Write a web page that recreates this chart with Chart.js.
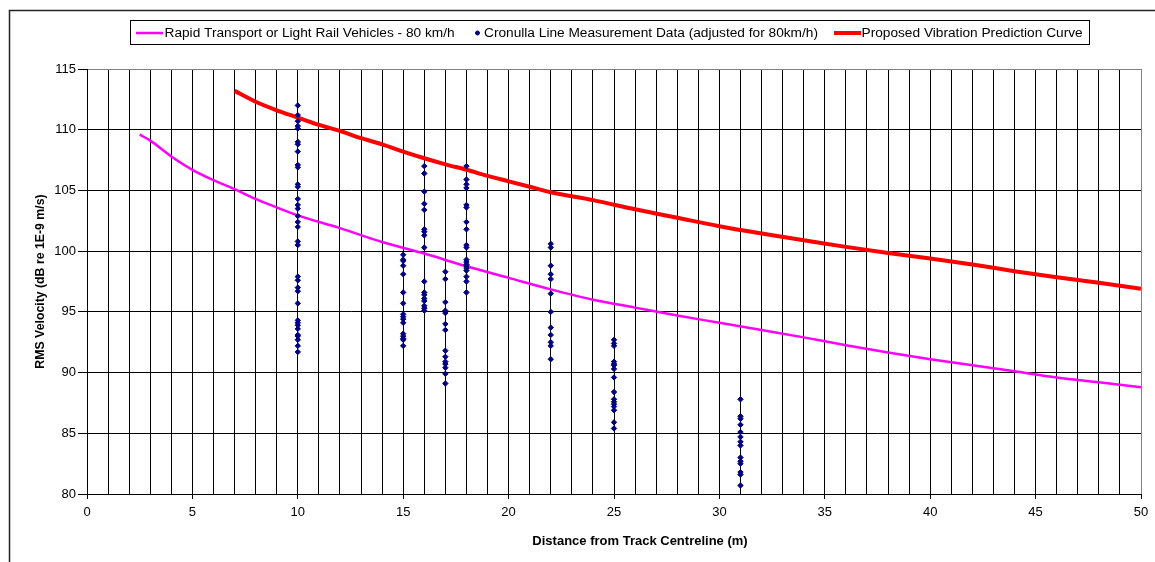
<!DOCTYPE html>
<html>
<head>
<meta charset="utf-8">
<script src="https://cdn.jsdelivr.net/npm/chart.js@4.4.1/dist/chart.umd.min.js"></script>
<style>
  html, body { margin: 0; padding: 0; background: #fff; }
</style>
</head>
<body>
<canvas id="chart" width="1155" height="562"></canvas>
<script>
// Rapid transport / light rail curve (80 km/h)
const rapidDist = [2.5, 3, 4, 5, 6, 7, 8, 9, 10, 12, 14, 16, 18, 20, 22, 24, 26, 28, 30, 32, 34, 36, 38, 40, 42, 44, 46, 48, 50];
const rapidLevel = [109.6, 109.1, 107.8, 106.7, 105.85, 105.1, 104.3, 103.6, 102.95, 101.9, 100.75, 99.8, 98.75, 97.8, 96.85, 96.0, 95.35, 94.7, 94.1, 93.5, 92.9, 92.25, 91.65, 91.1, 90.6, 90.1, 89.6, 89.2, 88.8];

// Proposed vibration prediction curve
const proposedDist = [7, 8, 9, 10, 11, 12, 13, 14, 15, 16, 17, 18, 19, 20, 21, 22, 24, 26, 28, 30, 32, 34, 36, 38, 40, 42, 44, 46, 48, 50];
const proposedLevel = [113.2, 112.3, 111.6, 111.0, 110.4, 109.9, 109.3, 108.8, 108.2, 107.65, 107.15, 106.7, 106.2, 105.75, 105.3, 104.85, 104.2, 103.45, 102.75, 102.05, 101.45, 100.9, 100.35, 99.85, 99.4, 98.9, 98.35, 97.85, 97.4, 96.9];

// Cronulla line measurements, one list per distance
const meas10 = [112.0, 111.2, 110.7, 110.3, 110.1, 109.0, 108.8, 108.2, 107.1, 106.9, 105.5, 105.3, 104.3, 103.8, 103.5, 102.9, 102.4, 102.0, 100.8, 100.5, 97.9, 97.6, 97.0, 96.7, 95.7, 94.3, 94.1, 93.9, 93.6, 93.1, 93.0, 92.7, 92.2, 91.7];
const meas15 = [99.7, 99.3, 99.2, 98.8, 98.1, 96.6, 95.7, 94.8, 94.6, 94.4, 94.1, 93.2, 93.0, 92.8, 92.7, 92.2];
const meas16 = [107.0, 106.4, 104.9, 103.9, 103.4, 101.8, 101.6, 101.3, 100.3, 97.5, 96.6, 96.4, 96.1, 95.9, 95.5, 95.3, 95.1];
const meas17 = [98.3, 97.7, 95.8, 95.1, 94.9, 94.0, 93.5, 91.8, 91.3, 90.9, 90.7, 90.4, 89.9, 89.1];
const meas18 = [107.0, 105.9, 105.5, 105.2, 103.8, 103.6, 102.4, 101.8, 100.5, 100.3, 99.3, 99.1, 98.9, 98.8, 98.6, 98.4, 97.9, 97.5, 96.6];
const meas22 = [100.6, 100.3, 98.8, 98.1, 97.7, 96.5, 95.0, 93.7, 93.1, 92.5, 92.2, 91.1];
const meas25 = [92.7, 92.4, 92.2, 90.9, 90.7, 90.6, 90.3, 89.6, 88.4, 87.8, 87.6, 87.4, 87.2, 86.9, 85.9, 85.4];
const meas31 = [87.8, 86.4, 86.2, 85.7, 85.1, 84.7, 84.3, 84.0, 83.0, 82.7, 82.5, 81.8, 81.6, 80.7];
const measDist = [10, 15, 16, 17, 18, 22, 25, 31];
const measLevels = [meas10, meas15, meas16, meas17, meas18, meas22, meas25, meas31];

const FONT = '"Liberation Sans", Arial, sans-serif';
const xTitle = 'Distance from Track Centreline (m)';

const toPoints = (xs, ys) => xs.map((x, i) => ({ x: x, y: ys[i] }));
const measPoints = [];
measDist.forEach((d, i) => {
  measLevels[i].forEach(v => measPoints.push({ x: d, y: v }));
});

// legend entries: dataset index, where the key starts, where the text starts
const legendItems = [
  { ds: 1, keyX: 136, textX: 164.5 },
  { ds: 0, keyX: 477.5, textX: 484 },
  { ds: 2, keyX: 834, textX: 861.5 }
];

// outer frame, boxed legend and the x title (sits right of centre in the original)
const framePlugin = {
  id: 'frame',
  beforeDraw(chart) {
    const ctx = chart.ctx;
    ctx.save();
    ctx.fillStyle = '#fff';
    ctx.fillRect(0, 0, chart.width, chart.height);
    ctx.strokeStyle = '#222';
    ctx.lineWidth = 1.5;
    ctx.strokeRect(9.5, 10.5, chart.width + 20, chart.height + 20);
    ctx.restore();
  },
  afterDraw(chart) {
    const ctx = chart.ctx;
    const sets = chart.data.datasets;
    const y = 33;
    ctx.save();
    ctx.font = '13.7px ' + FONT;
    ctx.textBaseline = 'middle';
    legendItems.forEach(item => {
      const ds = sets[item.ds];
      if (ds.showLine) {
        ctx.strokeStyle = ds.borderColor;
        ctx.lineWidth = ds.borderWidth;
        ctx.beginPath();
        ctx.moveTo(item.keyX, y);
        ctx.lineTo(item.keyX + 27, y);
        ctx.stroke();
      } else {
        ctx.fillStyle = ds.backgroundColor;
        ctx.strokeStyle = ds.borderColor;
        ctx.lineWidth = 1;
        Chart.helpers.drawPoint(ctx, { pointStyle: 'circle', radius: 2, borderWidth: 1 }, item.keyX, y);
      }
      ctx.fillStyle = '#000';
      ctx.fillText(ds.label, item.textX, y + 0.5);
    });
    ctx.strokeStyle = '#000';
    ctx.lineWidth = 1;
    ctx.strokeRect(130.5, 20.5, 959, 24);

    ctx.font = 'bold 13px ' + FONT;
    ctx.textAlign = 'center';
    ctx.fillText(xTitle, 640, 541);
    ctx.restore();
  }
};

new Chart(document.getElementById('chart'), {
  type: 'scatter',
  data: {
    datasets: [
      {
        label: 'Cronulla Line Measurement Data (adjusted for 80km/h)',
        data: measPoints,
        showLine: false,
        pointStyle: 'rectRot',
        pointRadius: 2.7,
        pointBorderWidth: 1,
        backgroundColor: '#000080',
        borderColor: '#000080',
        order: 0
      },
      {
        label: 'Rapid Transport or Light Rail Vehicles - 80 km/h',
        data: toPoints(rapidDist, rapidLevel),
        showLine: true,
        borderColor: '#FF00FF',
        backgroundColor: '#FF00FF',
        borderWidth: 2.5,
        pointRadius: 0,
        cubicInterpolationMode: 'monotone',
        order: 1
      },
      {
        label: 'Proposed Vibration Prediction Curve',
        data: toPoints(proposedDist, proposedLevel),
        showLine: true,
        borderColor: '#FF0000',
        backgroundColor: '#FF0000',
        borderWidth: 4,
        pointRadius: 0,
        cubicInterpolationMode: 'monotone',
        order: 2
      }
    ]
  },
  options: {
    responsive: false,
    animation: false,
    devicePixelRatio: 1,
    layout: { padding: { top: 69, right: 14, bottom: 0, left: 0 } },
    plugins: {
      legend: { display: false },
      tooltip: { enabled: false }
    },
    scales: {
      x: {
        type: 'linear',
        min: 0,
        max: 50,
        afterFit(scale) { scale.height = 68; },
        ticks: {
          stepSize: 1,
          autoSkip: false,
          maxRotation: 0,
          padding: 6,
          color: '#000',
          font: { family: FONT, size: 13 },
          callback: v => (v % 5 === 0 ? v : '')
        },
        grid: {
          color: c => (c.tick && c.tick.value === 50 ? '#808080' : '#000'),
          lineWidth: 1,
          tickLength: 5,
          tickColor: c => (c.tick && c.tick.value % 5 === 0 ? '#000' : 'rgba(0,0,0,0)')
        },
        border: { color: '#000', width: 1 },
        title: { display: false }
      },
      y: {
        min: 80,
        max: 115,
        afterFit(scale) { scale.width = 87; },
        ticks: {
          stepSize: 5,
          padding: 2,
          color: '#000',
          font: { family: FONT, size: 13 }
        },
        grid: {
          color: c => (c.tick && c.tick.value === 115 ? '#808080' : '#000'),
          lineWidth: 1,
          tickLength: 9,
          tickColor: '#000'
        },
        border: { color: '#000', width: 1 },
        title: {
          display: true,
          text: 'RMS Velocity (dB re 1E-9 m/s)',
          color: '#000',
          font: { family: FONT, size: 12.3, weight: 'bold' },
          padding: { top: 33, bottom: 0 }
        }
      }
    }
  },
  plugins: [framePlugin]
});
</script>
</body>
</html>
